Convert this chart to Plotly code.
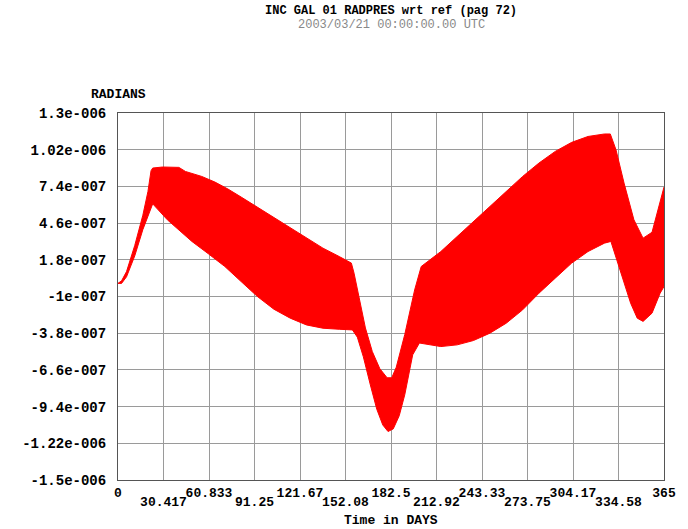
import numpy as np
import plotly.graph_objects as go

# Envelope of the (densely oscillating) signal, in micro-radians
upper_days = [0, 2.4, 5.7, 11.2, 16.6, 20.0, 22.1, 23.2, 29.8, 40.7, 45.1, 56.0, 64.8, 73.5,
              82.3, 93.2, 104.2, 115.1, 126.0, 137.0, 147.9, 156.0, 157.8, 160.2, 165.4, 170.0,
              175.0, 179.9, 183.0, 186.0, 191.7, 198.3, 202.7, 215.8, 226.7, 237.6, 248.6,
              259.5, 270.5, 281.4, 292.3, 303.3, 314.2, 325.2, 329.1, 332.9, 338.3, 344.9,
              351.0, 357.0, 362.4, 365.0]
upper_urad = [0.0, 0.02, 0.09, 0.29, 0.52, 0.70, 0.86, 0.88, 0.888, 0.885, 0.854, 0.816,
              0.773, 0.72, 0.659, 0.582, 0.498, 0.422, 0.345, 0.269, 0.205, 0.155, 0.078,
              -0.05, -0.34, -0.52, -0.65, -0.72, -0.72, -0.64, -0.39, -0.05, 0.129, 0.243,
              0.358, 0.472, 0.587, 0.701, 0.816, 0.918, 1.007, 1.076, 1.121, 1.14, 1.14, 1.02,
              0.765, 0.485, 0.345, 0.39, 0.613, 0.735]

lower_days = [0, 2.4, 5.7, 11.2, 16.6, 20.0, 22.5, 23.2, 33.0, 40.7, 49.4, 60.4, 71.4, 82.3,
              93.2, 104.2, 115.1, 126.0, 137.0, 147.9, 156.7, 160.0, 164.0, 168.7, 173.0,
              177.0, 180.5, 184.0, 188.0, 191.7, 197.0, 201.5, 215.8, 226.7, 237.6, 248.6,
              259.5, 270.5, 281.4, 292.3, 303.3, 314.2, 325.2, 329.5, 336.1, 342.7, 347.1,
              351.0, 357.0, 362.4, 365.0]
lower_urad = [0.0, 0.0, 0.05, 0.21, 0.41, 0.52, 0.59, 0.607, 0.485, 0.409, 0.32, 0.226,
              0.129, 0.014, -0.10, -0.197, -0.265, -0.317, -0.342, -0.35, -0.355, -0.41,
              -0.56, -0.775, -0.96, -1.08, -1.13, -1.11, -1.01, -0.85, -0.545, -0.455,
              -0.482, -0.469, -0.436, -0.38, -0.304, -0.202, -0.075, 0.04, 0.155, 0.243,
              0.307, 0.32, 0.078, -0.151, -0.265, -0.29, -0.227, -0.075, -0.024]

x_tick_vals = [0, 30.417, 60.833, 91.25, 121.67, 152.08, 182.5, 212.92, 243.33, 273.75,
               304.17, 334.58, 365]
x_tick_text = ["0", "30.417", "60.833", "91.25", "121.67", "152.08", "182.5", "212.92",
               "243.33", "273.75", "304.17", "334.58", "365"]
y_tick_vals = [1.3e-6, 1.02e-6, 7.4e-7, 4.6e-7, 1.8e-7, -1e-7, -3.8e-7, -6.6e-7, -9.4e-7,
               -1.22e-6, -1.5e-6]
y_tick_text = ["1.3e-006", "1.02e-006", "7.4e-007", "4.6e-007", "1.8e-007", "-1e-007",
               "-3.8e-007", "-6.6e-007", "-9.4e-007", "-1.22e-006", "-1.5e-006"]

FONT = "Liberation Mono"
RED = "#ff0000"

fig = go.Figure()
fig.add_trace(go.Scatter(x=lower_days, y=np.array(lower_urad) * 1e-6, mode="lines",
                         line=dict(color=RED, width=1), hoverinfo="skip", showlegend=False))
fig.add_trace(go.Scatter(x=upper_days, y=np.array(upper_urad) * 1e-6, mode="lines",
                         line=dict(color=RED, width=1), fill="tonexty", fillcolor=RED,
                         hoverinfo="skip", showlegend=False))
# invisible trace to activate second x axis (odd tick labels row)
fig.add_trace(go.Scatter(x=[0, 365], y=[None, None], xaxis="x2", mode="lines",
                         showlegend=False, hoverinfo="skip"))

row1 = [t if i % 2 == 0 else "" for i, t in enumerate(x_tick_text)]
row2 = [t if i % 2 == 1 else "" for i, t in enumerate(x_tick_text)]

ytickfont = dict(family=FONT, size=14, color="black", weight="bold")
xtickfont = dict(family=FONT, size=13, color="black", weight="bold")

H = 529 - 113 - 49


def py(pix):
    return (529 - 49 - pix) / H


fig.update_layout(
    width=688, height=529,
    margin=dict(l=118, r=14, t=113, b=49),
    paper_bgcolor="white", plot_bgcolor="white",
    showlegend=False,
    xaxis=dict(range=[0, 365], tickvals=x_tick_vals, ticktext=row1, tickfont=xtickfont,
               showgrid=True, gridcolor="#9a9a9a", gridwidth=1, zeroline=False,
               showline=True, linecolor="#555555", linewidth=1, mirror=True,
               ticks="", ticklabelstandoff=0),
    xaxis2=dict(range=[0, 365], overlaying="x", side="bottom", tickvals=x_tick_vals,
                ticktext=row2, tickfont=xtickfont, showgrid=False, zeroline=False,
                showline=False, ticks="", ticklabelstandoff=12),
    yaxis=dict(range=[-1.5e-6, 1.3e-6], tickvals=y_tick_vals, ticktext=y_tick_text,
               tickfont=ytickfont, showgrid=True, gridcolor="#9a9a9a", gridwidth=1,
               zeroline=False, showline=True, linecolor="#555555", linewidth=1,
               mirror=True, ticks="", ticklabelstandoff=8),
    annotations=[
        dict(text="<b>INC GAL 01 RADPRES wrt ref (pag 72)</b>", xref="paper", yref="paper",
             x=0.5, y=py(11), yanchor="middle", xanchor="center", showarrow=False,
             font=dict(family=FONT, size=12, color="black")),
        dict(text="2003/03/21 00:00:00.00 UTC", xref="paper", yref="paper",
             x=0.5, y=py(25), yanchor="middle", xanchor="center", showarrow=False,
             font=dict(family=FONT, size=12, color="#888888")),
        dict(text="<b>RADIANS</b>", xref="paper", yref="paper",
             x=0, y=py(94), yanchor="middle", xanchor="center", showarrow=False,
             font=dict(family=FONT, size=13, color="black")),
        dict(text="<b>Time in DAYS</b>", xref="paper", yref="paper",
             x=0.5, y=py(520), yanchor="middle", xanchor="center", showarrow=False,
             font=dict(family=FONT, size=13, color="black")),
    ],
)

fig.write_html("out.html")
